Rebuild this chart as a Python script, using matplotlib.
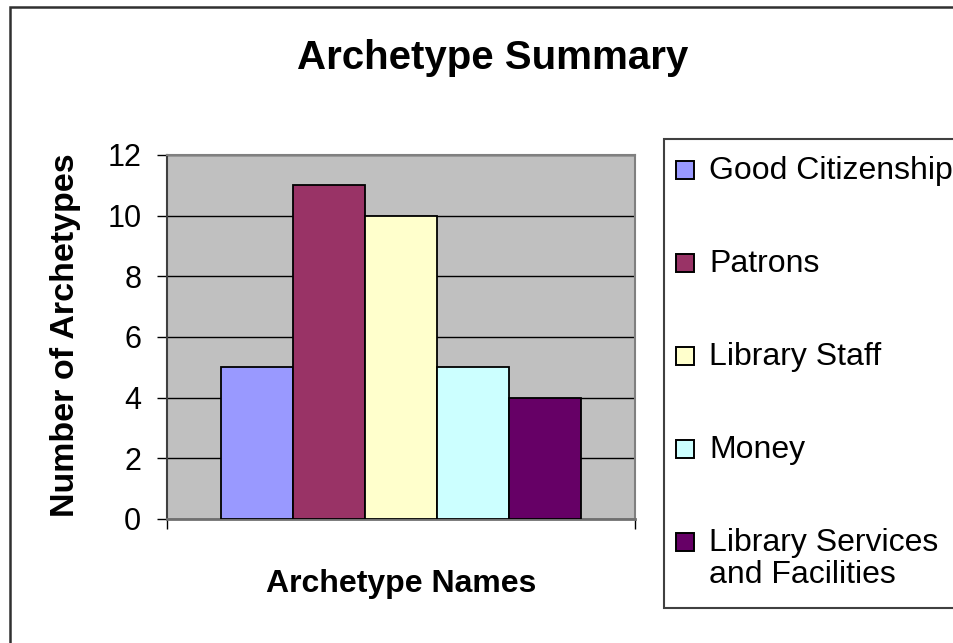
import matplotlib
matplotlib.use('Agg')
import matplotlib.pyplot as plt
from matplotlib.patches import Rectangle

# data
series = ['Good Citizenship', 'Patrons', 'Library Staff', 'Money',
          'Library Services\nand Facilities']
counts = [5, 11, 10, 5, 4]
colors = ['#9999FF', '#993366', '#FFFFCC', '#CCFFFF', '#660066']
yticks = [0, 2, 4, 6, 8, 10, 12]

plt.rcParams['font.family'] = ['Liberation Sans', 'DejaVu Sans']

W, H = 954, 643
fig = plt.figure(figsize=(W / 100, H / 100), dpi=100)

# outer chart border (runs off right and bottom edge like the screenshot)
fig.patches.append(Rectangle((10.5 / W, -0.2), 1.2, 1.2 - 6.5 / H,
                             transform=fig.transFigure, fill=False,
                             edgecolor='#303030', linewidth=1.8))

ax = fig.add_axes([167 / W, 1 - 519 / H, 468 / W, 364 / H])
ax.set_facecolor('#C0C0C0')

# one category, five series, gap width 150%
w = 1 / 6.5
for i, (name, v, c) in enumerate(zip(series, counts, colors)):
    ax.bar((i - 2) * w, v, width=w, color=c, edgecolor='black',
           linewidth=1.3, zorder=3)

ax.set_xlim(-0.5, 0.5)
ax.set_ylim(0, 12)
ax.set_yticks(yticks)
ax.set_xticks([-0.5, 0.5])
ax.set_xticklabels(['', ''])
ax.yaxis.grid(True, color='black', linewidth=1.0, zorder=1)
ax.set_axisbelow(True)
ax.tick_params(axis='y', direction='out', length=7.5, width=1.0,
               labelsize=22, pad=11, colors='black')
ax.tick_params(axis='x', direction='out', length=7.5, width=1.0)

for s in ['top', 'right']:
    ax.spines[s].set_color('#808080')
    ax.spines[s].set_linewidth(1.5)
ax.spines['bottom'].set_color('#707070')
ax.spines['bottom'].set_linewidth(2)
ax.spines['left'].set_color('#404040')
ax.spines['left'].set_linewidth(1.5)

fig.text(493 / W, 1 - 58 / H, 'Archetype Summary', ha='center',
         va='center', fontsize=29, fontweight='bold')
fig.text(401 / W, 1 - 584 / H, 'Archetype Names', ha='center',
         va='center', fontsize=23, fontweight='bold')
fig.text(66 / W, 1 - 335 / H, 'Number of Archetypes', ha='center',
         va='center', rotation=90, fontsize=24.5, fontweight='bold')

# legend box, drawn by hand so it can run past the right edge
fig.patches.append(Rectangle((664 / W, 1 - 608 / H), 0.5, 469 / H,
                             transform=fig.transFigure, facecolor='white',
                             edgecolor='#404040', linewidth=1.5))
for i, (name, c) in enumerate(zip(series, colors)):
    yc = 170 + 93 * i
    fig.patches.append(Rectangle((676 / W, 1 - (yc + 9) / H), 18 / W, 18 / H,
                                 transform=fig.transFigure, facecolor=c,
                                 edgecolor='black', linewidth=1.4))
    fig.text(709 / W, 1 - (yc - 14) / H, name, ha='left', va='top',
             fontsize=23, linespacing=1.08)

fig.savefig('out.png', dpi=100)
